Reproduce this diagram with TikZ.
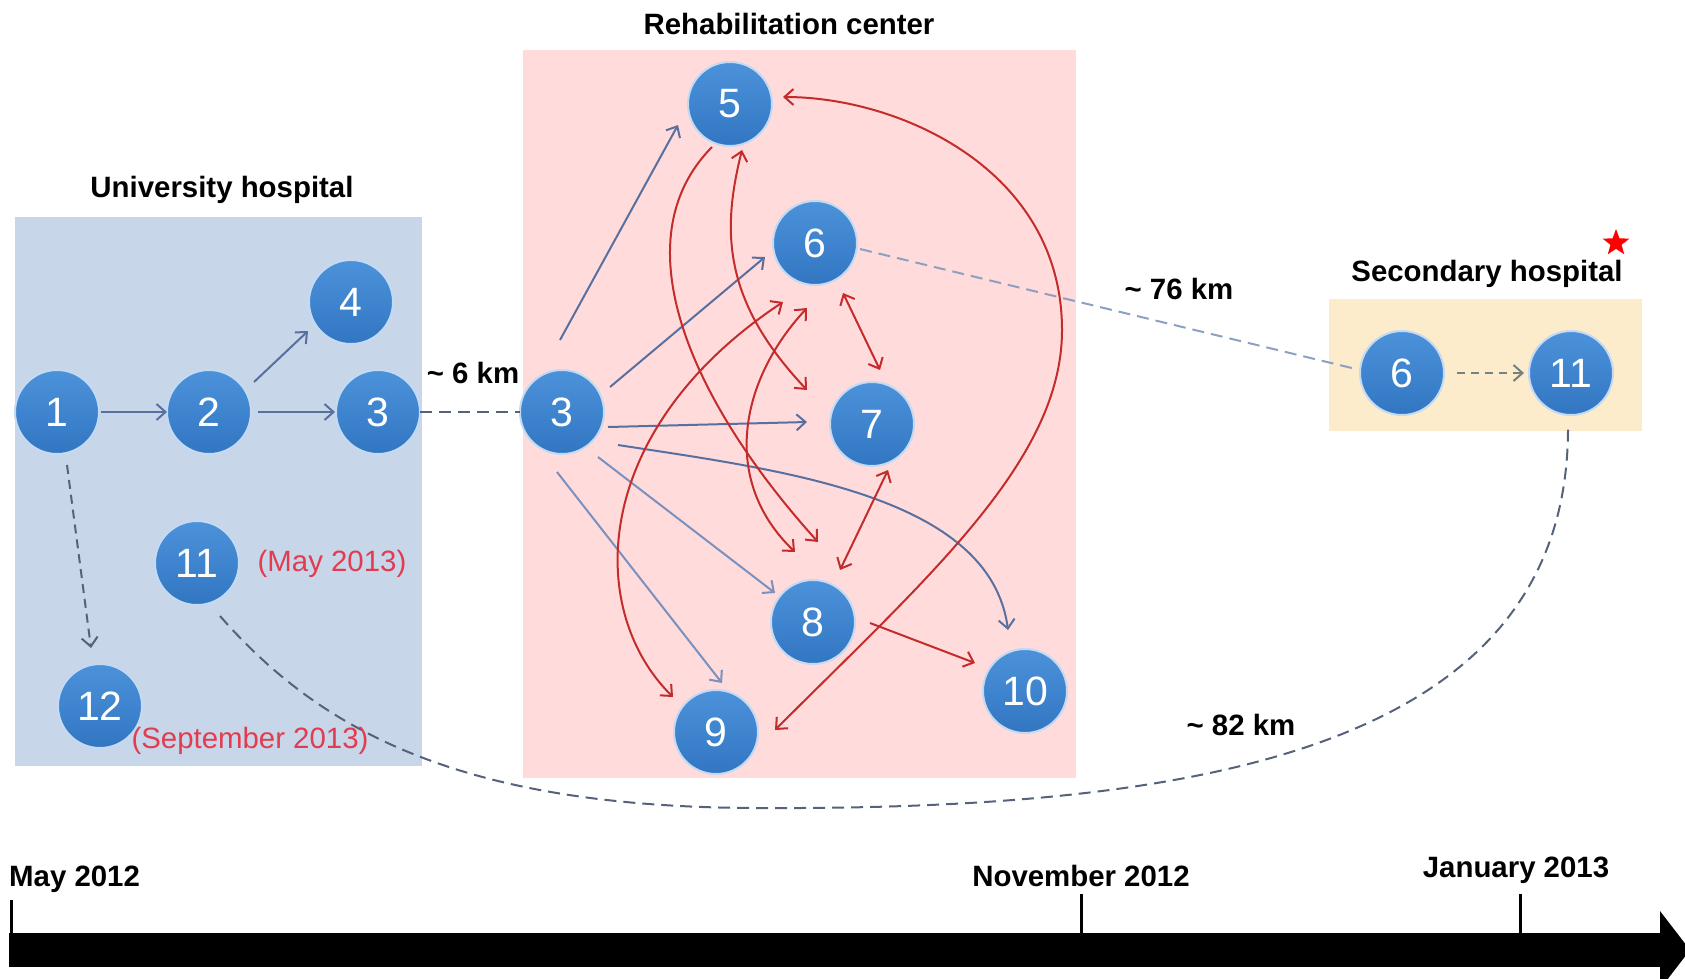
\documentclass[tikz,border=0pt]{standalone}
\usepackage{fontspec}
\setmainfont{Liberation Sans}
\usetikzlibrary{arrows.meta,calc,shapes.geometric}

\definecolor{uniblue}{RGB}{200,214,234}
\definecolor{rehabpink}{RGB}{255,219,219}
\definecolor{secyellow}{RGB}{252,236,204}
\definecolor{nodetop}{RGB}{76,146,218}
\definecolor{nodebot}{RGB}{50,118,194}
\definecolor{noderim}{RGB}{196,218,242}
\definecolor{flowblue}{RGB}{88,112,160}
\definecolor{flowbluelight}{RGB}{122,144,190}
\definecolor{flowred}{RGB}{196,44,44}
\definecolor{dashgray}{RGB}{85,98,122}
\definecolor{lightdash}{RGB}{140,160,192}
\definecolor{hopgray}{RGB}{115,130,128}
\definecolor{datered}{RGB}{226,60,80}

\begin{document}
\begin{tikzpicture}[x=1pt, y=-1pt,
  patient/.style={circle, minimum size=84pt, inner sep=0pt, outer sep=0pt,
    top color=nodetop, bottom color=nodebot, draw=noderim, line width=2pt,
    text=white, font=\fontsize{41}{45}\selectfont},
  heading/.style={font=\fontsize{29.4}{34}\selectfont\bfseries, text=black, inner sep=0pt},
  datelbl/.style={font=\fontsize{29.4}{34}\selectfont, text=datered, inner sep=0pt},
  onehead/.style={-{Straight Barb[length=9pt,width=16pt]}},
  twoheads/.style={{Straight Barb[length=9pt,width=16pt]}-{Straight Barb[length=9pt,width=16pt]}},
  bluelink/.style={draw=flowblue, line width=2pt, onehead},
  paleblue/.style={draw=flowbluelight, line width=2pt, onehead},
  redlink/.style={draw=flowred, line width=2pt, onehead},
  redpair/.style={draw=flowred, line width=2pt, twoheads},
  transfer/.style={draw=dashgray, line width=2pt, dash pattern=on 12pt off 7pt},
]
\useasboundingbox (0,0) rectangle (1685,978);
\clip (0,0) rectangle (1685,978);

% ward areas
\fill[uniblue] (15,217) rectangle (422,766);
\fill[rehabpink] (523,50) rectangle (1076,778);
\fill[secyellow] (1329,299) rectangle (1642,431);

\node[heading] (uni-title) at (222,190) {University hospital};
\node[heading] (rehab-title) at (789,24) {Rehabilitation center};
\node[heading] (sec-title) at (1487,274) {Secondary hospital};
\node[star, star points=5, star point ratio=2.4, fill=red, draw=none,
      minimum size=28pt, inner sep=0pt] (sec-star) at (1616,243) {};

% patients
\node[patient] (U1) at (57,412) {1};
\node[patient] (U2) at (209,412) {2};
\node[patient] (U3) at (378,412) {3};
\node[patient] (U4) at (351,302) {4};
\node[patient] (U11) at (197,563) {11};
\node[patient] (U12) at (100,706) {12};
\node[patient] (R3) at (562,412) {3};
\node[patient] (R5) at (730,104) {5};
\node[patient] (R6) at (815,243) {6};
\node[patient] (R7) at (872,424) {7};
\node[patient] (R8) at (813,622) {8};
\node[patient] (R9) at (716,732) {9};
\node[patient] (R10) at (1025,691) {10};
\node[patient] (S6) at (1402,373) {6};
\node[patient] (S11) at (1571,373) {11};

% university hospital
\draw[bluelink] ($(U1)+(44,0)$) -- ($(U2)+(-42,0)$);
\draw[bluelink] ($(U2)+(49,0)$) -- ($(U3)+(-43,0)$);
\draw[bluelink] ($(U2)+(45,-30)$) -- ($(U4)+(-43,29)$);
\draw[draw=dashgray, line width=2pt, dash pattern=on 9pt off 6pt, onehead]
  ($(U1)+(10,53)$) -- ($(U12)+(-9,-58)$);

% transfers between hospitals
\draw[transfer] (U3.east) -- (R3.west);
\draw[draw=lightdash, line width=2pt, dash pattern=on 12pt off 7pt]
  ($(R6)+(45,6)$) -- ($(S6)+(-46,-4)$);
\draw[draw=hopgray, line width=2pt, dash pattern=on 8pt off 6pt, onehead]
  ($(S6)+(55,0)$) -- ($(S11)+(-47,0)$);
\draw[transfer] ($(U11)+(23,53)$) .. controls (320,730) and (460,808) .. (760,808)
  .. controls (1210,810) and (1568,745) .. ($(S11)+(-3,55)$);

\node[heading] (d6) at (473,373) {\textasciitilde{} 6 km};
\node[heading] (d76) at (1179,289) {\textasciitilde{} 76 km};
\node[heading] (d82) at (1241,725) {\textasciitilde{} 82 km};

% rehabilitation center: spread from patient 3
\draw[bluelink] ($(R3)+(-2,-72)$) -- ($(R5)+(-52,21)$);
\draw[bluelink] ($(R3)+(48,-25)$) -- ($(R6)+(-50,14)$);
\draw[bluelink] ($(R3)+(46,15)$) -- ($(R7)+(-65,-2)$);
\draw[bluelink] ($(R3)+(56,33)$) .. controls (780,470) and (990,495) .. ($(R10)+(-17,-61)$);
\draw[paleblue] ($(R3)+(36,45)$) -- ($(R8)+(-38,-29)$);
\draw[paleblue] ($(R3)+(-5,60)$) -- ($(R9)+(6,-49)$);

% rehabilitation center: secondary spread
\draw[redpair] ($(R5)+(12,46)$) .. controls (722,230) and (722,300) .. ($(R7)+(-65,-34)$);
\draw[redlink] ($(R5)+(-18,43)$) .. controls (620,240) and (690,400) .. ($(R8)+(5,-80)$);
\draw[redpair] ($(R9)+(-43,-35)$) .. controls (585,610) and (590,430) .. ($(R6)+(-32,59)$);
\draw[redpair] ($(R6)+(-8,65)$) .. controls (740,380) and (720,480) .. ($(R8)+(-18,-70)$);
\draw[redpair] ($(R6)+(28,50)$) -- ($(R7)+(8,-54)$);
\draw[redpair] ($(R8)+(27,-52)$) -- ($(R7)+(16,46)$);
\draw[redlink] ($(R8)+(57,1)$) -- ($(R10)+(-50,-28)$);
\draw[redpair] ($(R9)+(59,-2)$) .. controls (930,575) and (1062,460) .. (1062,330)
  .. controls (1062,170) and (900,97) .. ($(R5)+(53,-7)$);

% dates of late cases
\node[datelbl] (may13) at (332,564) {(May 2013)};
\node[datelbl] (sep13) at (250,741) {(September 2013)};

% timeline
\fill[black] (9,933) rectangle (1662,967);
\fill[black] (1660,911) -- (1690,950) -- (1660,989) -- cycle;
\draw[line width=3pt] (11,900) -- (11,934);
\draw[line width=3pt] (1081,894) -- (1081,934);
\draw[line width=3pt] (1520,894) -- (1520,934);
\node[heading, anchor=west] (t-may) at (9,879) {May 2012};
\node[heading] (t-nov) at (1081,876) {November 2012};
\node[heading] (t-jan) at (1516,870) {January 2013};
\end{tikzpicture}
\end{document}
